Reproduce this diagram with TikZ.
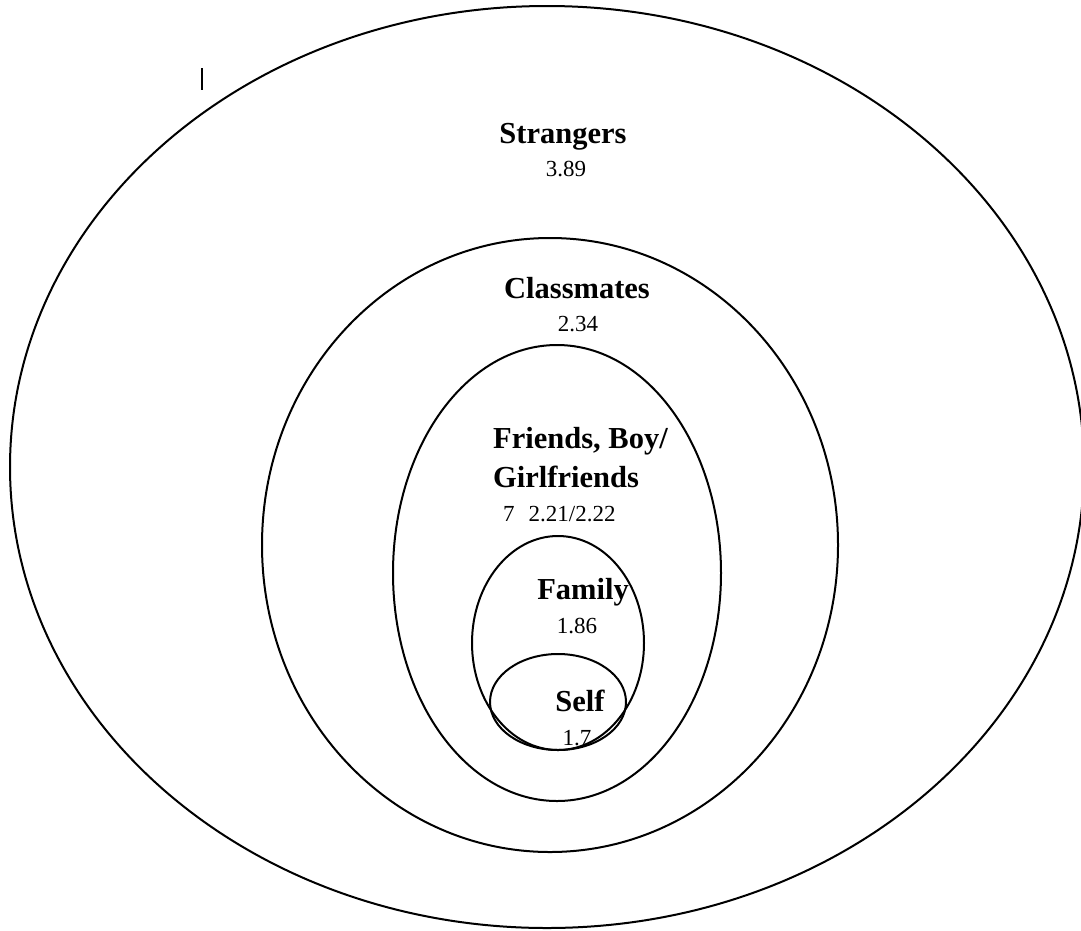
\documentclass[tikz,border=0pt]{standalone}
\usepackage{fontspec}
\setmainfont{Liberation Serif}
\begin{document}
\begin{tikzpicture}[x=1pt,y=-1pt,
  ring/.style={draw=black,line width=2pt},
  lbl/.style={inner sep=0pt,font=\fontsize{30.5}{34}\selectfont\bfseries},
  val/.style={inner sep=0pt,font=\fontsize{23}{27}\selectfont}]
\useasboundingbox (0,0) rectangle (1081,930);
% ellipses
\draw[ring] (547,467) ellipse [x radius=537, y radius=461];
\draw[ring] (550,545) ellipse [x radius=288, y radius=307];
\draw[ring] (557,573) ellipse [x radius=164, y radius=228];
\draw[ring] (558,643) ellipse [x radius=86, y radius=107];
\draw[ring] (558,702) ellipse [x radius=68, y radius=48];
% stray tick
\coordinate (t1) at (202,68);
\coordinate (t2) at (202,90);
\draw[line width=2pt] (t1) -- (t2);
% labels
\node[lbl,anchor=base] (str) at (563,143) {Strangers};
\node[val,anchor=base] (strv) at (566,176) {3.89};
\node[lbl,anchor=base] (cls) at (577,298) {Classmates};
\node[val,anchor=base] (clsv) at (578,331) {2.34};
\node[lbl,anchor=base west] (fr1) at (493,448) {Friends, Boy/};
\node[lbl,anchor=base west] (fr2) at (493,487) {Girlfriends};
\node[val,anchor=base west] (frv) at (503,521) {7\hspace{14pt}2.21/2.22};
\node[lbl,anchor=base] (fam) at (583,599) {Family};
\node[val,anchor=base] (famv) at (577,633) {1.86};
\node[lbl,anchor=base] (slf) at (580,711) {Self};
\node[val,anchor=base] (slfv) at (577,745) {1.7};
\end{tikzpicture}
\end{document}
